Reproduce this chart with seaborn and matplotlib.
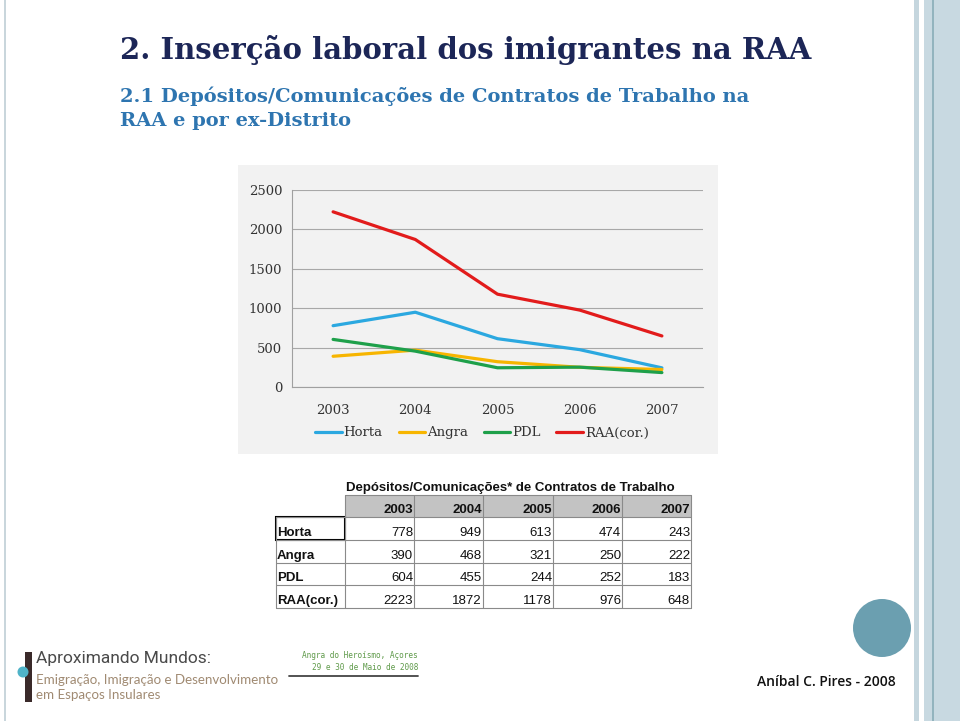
import numpy as np
import pandas as pd
import matplotlib
matplotlib.use("Agg")
import matplotlib.pyplot as plt
from matplotlib.patches import Rectangle, Circle
from matplotlib.lines import Line2D
import seaborn as sns

# data (Depósitos/Comunicações de Contratos de Trabalho)
years = ["2003", "2004", "2005", "2006", "2007"]
regions = ["Horta", "Angra", "PDL", "RAA(cor.)"]
horta = [778, 949, 613, 474, 243]
angra = [390, 468, 321, 250, 222]
pdl = [604, 455, 244, 252, 183]
raa = [2223, 1872, 1178, 976, 648]
yticks = [0, 500, 1000, 1500, 2000, 2500]
line_colors = ["#2ba8e0", "#f7b500", "#1ea04a", "#e21b1b"]

series = [horta, angra, pdl, raa]
df = pd.DataFrame({
    "pos": list(range(len(years))) * len(regions),
    "region": np.repeat(regions, len(years)),
    "value": horta + angra + pdl + raa,
})

W, H = 960, 721


def box(x0, y0, x1, y1):
    # pixel box (top-left origin) -> figure fraction
    return [x0 / W, 1 - y1 / H, (x1 - x0) / W, (y1 - y0) / H]


sns.set_theme(style="white")
plt.rcParams["font.family"] = ["DejaVu Sans"]

fig = plt.figure(figsize=(9.6, 7.21), dpi=100)
fig.patch.set_facecolor("white")

# full-page axes in pixel coordinates for the slide decoration and the table
bg = fig.add_axes([0, 0, 1, 1])
bg.set_xlim(0, W)
bg.set_ylim(H, 0)
bg.axis("off")

# slide frame stripes
bg.add_patch(Rectangle((4, 0), 2, H, color="#c9d6dc", lw=0))
bg.add_patch(Rectangle((914, 0), 5, H, color="#c5d6de", lw=0))
bg.add_patch(Rectangle((924, 0), 36, H, color="#c8d9e1", lw=0))
bg.add_patch(Rectangle((932, 0), 2, H, color="#93b4be", lw=0))

# titles
serif = ["DejaVu Serif"]
bg.text(120, 59, "2. Inserção laboral dos imigrantes na RAA", fontsize=21,
        fontweight="bold", family=serif, color="#1c2657", va="baseline")
bg.text(120, 102, "2.1 Depósitos/Comunicações de Contratos de Trabalho na", fontsize=14,
        fontweight="bold", family=serif, color="#2e75b0", va="baseline")
bg.text(120, 126, "RAA e por ex-Distrito", fontsize=14,
        fontweight="bold", family=serif, color="#2e75b0", va="baseline")

# chart panel
bg.add_patch(Rectangle((238, 165), 480, 289, color="#f2f2f2", lw=0))

ax = fig.add_axes(box(292, 190, 703, 387))
ax.patch.set_alpha(0)
sns.lineplot(data=df, x="pos", y="value", hue="region",
             palette=dict(zip(regions, line_colors)), linewidth=2.3,
             ax=ax, legend=False)
ax.set_xlim(-0.5, len(years) - 0.5)
ax.set_ylim(0, 2500)
ax.set_yticks(yticks)
ax.set_yticklabels([str(v) for v in yticks])
ax.set_xticks(range(len(years)))
ax.set_xticklabels(years)
ax.set_xticks(np.arange(-0.5, len(years)), minor=True)
ax.set_xlabel("")
ax.set_ylabel("")
ax.grid(axis="y", color="#a8a8a8", lw=0.8)
ax.set_axisbelow(True)
for s in ["top", "right"]:
    ax.spines[s].set_visible(False)
for s in ["left", "bottom"]:
    ax.spines[s].set_color("#a0a0a0")
    ax.spines[s].set_linewidth(0.8)
ax.tick_params(axis="y", length=0, pad=7, labelsize=9.5, labelcolor="#333333")
ax.tick_params(axis="x", which="major", length=0, pad=12, labelsize=9.5, labelcolor="#333333")
ax.tick_params(axis="x", which="minor", length=4, width=0.8, color="#a0a0a0", direction="out")
for lab in ax.get_xticklabels() + ax.get_yticklabels():
    lab.set_family(["DejaVu Serif"])

handles = [Line2D([], [], color=c, lw=2.3) for c in line_colors]
fig.legend(handles, regions, loc="center", bbox_to_anchor=(482 / W, 1 - 433 / H),
           ncol=4, frameon=False, handlelength=2.0, handletextpad=0.15,
           columnspacing=1.2, prop={"family": "DejaVu Serif", "size": 9.5},
           labelcolor="#333333")

# table
col_edges = [276, 345, 414, 483, 553, 622, 691]
row_edges = [495, 517, 540, 563, 585, 608]
tfont = ["Liberation Sans", "DejaVu Sans"]
grid_c = "#8a8a8a"

bg.text(346, 491, "Depósitos/Comunicações* de Contratos de Trabalho", fontsize=9.5,
        fontweight="bold", family=tfont, color="#111111", va="baseline")
bg.add_patch(Rectangle((col_edges[1], row_edges[0]), col_edges[-1] - col_edges[1],
                       row_edges[1] - row_edges[0], color="#c3c3c3", lw=0))
bg.plot([col_edges[1], col_edges[-1]], [row_edges[0]] * 2, color=grid_c, lw=0.8)
for y in row_edges[1:]:
    bg.plot([col_edges[0], col_edges[-1]], [y, y], color=grid_c, lw=0.8)
bg.plot([col_edges[0]] * 2, [row_edges[1], row_edges[-1]], color=grid_c, lw=0.8)
for x in col_edges[1:]:
    bg.plot([x, x], [row_edges[0], row_edges[-1]], color=grid_c, lw=0.8)
bg.add_patch(Rectangle((col_edges[0], row_edges[1]), col_edges[1] - col_edges[0],
                       row_edges[2] - row_edges[1], fill=False, ec="black", lw=1.5))

for j, yr in enumerate(years):
    bg.text(col_edges[j + 2] - 1, row_edges[1] - 4, yr, fontsize=9.5, fontweight="bold",
            family=tfont, ha="right", va="baseline", color="#111111")
for i, (name, vals) in enumerate(zip(regions, series)):
    yb = row_edges[i + 2] - 4
    bg.text(col_edges[0] + 1, yb, name, fontsize=9.5, fontweight="bold",
            family=tfont, ha="left", va="baseline", color="#111111")
    for j, v in enumerate(vals):
        bg.text(col_edges[j + 2] - 1, yb, str(v), fontsize=9.5,
                family=tfont, ha="right", va="baseline", color="#111111")

# footer
bg.add_patch(Circle((882, 628), 29, color="#6b9fb0", lw=0))
bg.text(826, 682, "Aníbal C. Pires - 2008", fontsize=10, fontweight="semibold",
        family=["Open Sans", "DejaVu Sans"], ha="center", va="center", color="#111111")

bg.add_patch(Rectangle((25, 652), 7, 50, color="#3a2a2a", lw=0))
bg.add_patch(Circle((23, 672), 5.5, color="#4fb3c8", lw=0))
bg.text(36, 658, "Aproximando Mundos:", fontsize=12.5,
        family=["Roboto", "DejaVu Sans"], color="#4a4a4a", va="center")
bg.text(36, 680, "Emigração, Imigração e Desenvolvimento", fontsize=9.6,
        family=["Lato", "DejaVu Sans"], color="#a08a72", va="center")
bg.text(36, 695, "em Espaços Insulares", fontsize=9.6,
        family=["Lato", "DejaVu Sans"], color="#a08a72", va="center")

bg.text(418, 656, "Angra do Heroísmo, Açores", fontsize=5.6,
        family=["DejaVu Sans Mono"], color="#5f9a4a", ha="right", va="center")
bg.text(418, 668, "29 e 30 de Maio de 2008", fontsize=5.6,
        family=["DejaVu Sans Mono"], color="#5f9a4a", ha="right", va="center")
bg.plot([289, 418], [676, 676], color="#444444", lw=1.3)

fig.savefig("out.png", dpi=100, facecolor="white")
